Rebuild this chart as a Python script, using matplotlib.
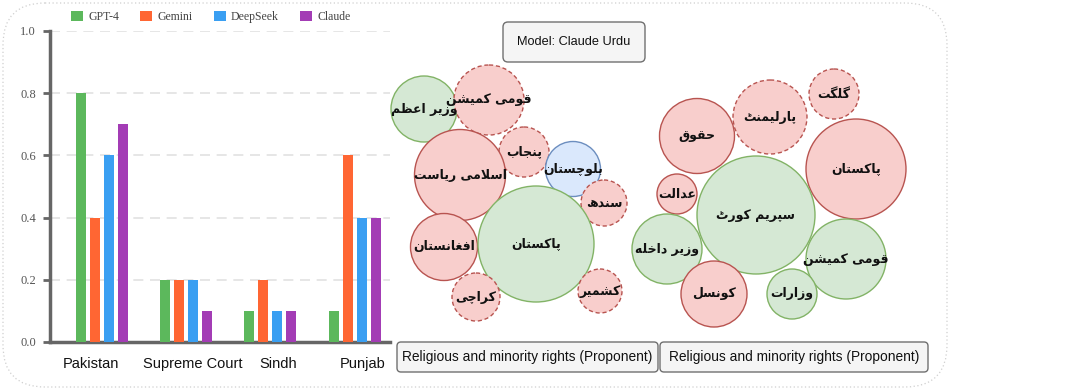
import numpy as np
import matplotlib
matplotlib.use('Agg')
import matplotlib.pyplot as plt
from matplotlib.patches import Circle, FancyBboxPatch

# bar chart data
categories = ['Pakistan', 'Supreme Court', 'Sindh', 'Punjab']
models = ['GPT-4', 'Gemini', 'DeepSeek', 'Claude']
gpt4 = [0.8, 0.2, 0.1, 0.1]
gemini = [0.4, 0.2, 0.2, 0.6]
deepseek = [0.6, 0.2, 0.1, 0.4]
claude = [0.7, 0.1, 0.1, 0.4]
bar_colors = ['#5cb85c', '#ff6633', '#3a9ff2', '#a33cb5']

# bubble charts (pixel centres / radii)
labels_l = ['وزیر اعظم', 'قومی کمیشن', 'پنجاب', 'بلوچستان', 'اسلامی ریاست',
            'سندھ', 'افغانستان', 'پاکستان', 'کراچی', 'کشمیر']
x_l = [424, 489, 524, 573, 460, 604, 444, 536, 476, 600]
y_l = [109, 100, 152, 169, 175, 203, 247, 244, 297, 291]
r_l = [33, 35, 25, 27.5, 45.5, 23, 33.5, 58, 24, 22]
kind_l = ['pos', 'neg_d', 'neg_d', 'neu', 'neg', 'neg_d', 'neg', 'pos', 'neg_d', 'neg_d']

labels_r = ['گلگت', 'پارلیمنٹ', 'حقوق', 'پاکستان', 'عدالت', 'سپریم کورٹ',
            'وزیر داخلہ', 'قومی کمیشن', 'کونسل', 'وزارات']
x_r = [834, 770, 697, 856, 677, 756, 667, 846, 714, 792]
y_r = [94, 117, 136, 169, 194, 215, 249, 259, 294, 294]
r_r = [25, 37, 37.5, 50, 20, 59, 35, 40, 33, 25]
kind_r = ['neg_d', 'neg_d', 'neg', 'neg', 'neg', 'pos', 'pos', 'pos', 'neg', 'pos']

title = 'Model: Claude Urdu'
panel_titles = ['Religious and minority rights (Proponent)',
                'Religious and minority rights (Proponent)']

# (fill, edge, linestyle)
styles = {
    'pos': ('#d5e8d4', '#82b366', '-'),
    'neg': ('#f8cecc', '#b85450', '-'),
    'neg_d': ('#f8cecc', '#b85450', (0, (3, 2))),
    'neu': ('#dae8fc', '#6c8ebf', '-'),
}

# matplotlib does no arabic shaping, so map letters to presentation forms
FORMS = {
    'ا': ('\uFE8D', '\uFE8E'), 'د': ('\uFEA9', '\uFEAA'), 'ر': ('\uFEAD', '\uFEAE'),
    'ز': ('\uFEAF', '\uFEB0'), 'و': ('\uFEED', '\uFEEE'), '\uFEFB': ('\uFEFB', '\uFEFC'),
    'ب': ('\uFE8F', '\uFE90', '\uFE91', '\uFE92'), 'ت': ('\uFE95', '\uFE96', '\uFE97', '\uFE98'),
    'ج': ('\uFE9D', '\uFE9E', '\uFE9F', '\uFEA0'), 'ح': ('\uFEA1', '\uFEA2', '\uFEA3', '\uFEA4'),
    'خ': ('\uFEA5', '\uFEA6', '\uFEA7', '\uFEA8'), 'س': ('\uFEB1', '\uFEB2', '\uFEB3', '\uFEB4'),
    'ش': ('\uFEB5', '\uFEB6', '\uFEB7', '\uFEB8'), 'ظ': ('\uFEC5', '\uFEC6', '\uFEC7', '\uFEC8'),
    'ع': ('\uFEC9', '\uFECA', '\uFECB', '\uFECC'), 'غ': ('\uFECD', '\uFECE', '\uFECF', '\uFED0'),
    'ف': ('\uFED1', '\uFED2', '\uFED3', '\uFED4'), 'ق': ('\uFED5', '\uFED6', '\uFED7', '\uFED8'),
    'ل': ('\uFEDD', '\uFEDE', '\uFEDF', '\uFEE0'), 'م': ('\uFEE1', '\uFEE2', '\uFEE3', '\uFEE4'),
    'ن': ('\uFEE5', '\uFEE6', '\uFEE7', '\uFEE8'), 'پ': ('\uFB56', '\uFB57', '\uFB58', '\uFB59'),
    'ٹ': ('\uFB66', '\uFB67', '\uFB68', '\uFB69'), 'چ': ('\uFB7A', '\uFB7B', '\uFB7C', '\uFB7D'),
    'ک': ('\uFB8E', '\uFB8F', '\uFB90', '\uFB91'), 'گ': ('\uFB92', '\uFB93', '\uFB94', '\uFB95'),
    'ھ': ('\uFBAA', '\uFBAB', '\uFBAC', '\uFBAD'),
    # DejaVu lacks the heh goal forms; the reference draws it like a plain heh
    'ہ': ('\uFEE9', '\uFEEA', '\uFEEB', '\uFEEC'),
    'ی': ('\uFBFC', '\uFBFD', '\uFBFE', '\uFBFF'),
}


def shape(text):
    chars = list(text.replace('لا', '\uFEFB'))
    out = []
    for i, c in enumerate(chars):
        if c not in FORMS:
            out.append(c)
            continue
        prev = chars[i - 1] if i > 0 else None
        nxt = chars[i + 1] if i + 1 < len(chars) else None
        link_prev = prev in FORMS and len(FORMS[prev]) == 4
        link_next = len(FORMS[c]) == 4 and nxt in FORMS
        f = FORMS[c]
        if link_prev and link_next:
            out.append(f[3])
        elif link_prev:
            out.append(f[1])
        elif link_next:
            out.append(f[2])
        else:
            out.append(f[0])
    return ''.join(out)[::-1]


W, H = 1081, 391
fig = plt.figure(figsize=(W / 100, H / 100), dpi=100)

# overlay in pixel coordinates for border, boxes and bubbles
ov = fig.add_axes([0, 0, 1, 1])
ov.set_xlim(0, W)
ov.set_ylim(H, 0)
ov.axis('off')

ov.add_patch(FancyBboxPatch((3, 3), 944, 384, boxstyle='round,pad=0,rounding_size=42',
                            fc='none', ec='#cfcfcf', lw=0.9, ls=(0, (1, 2))))

ov.add_patch(FancyBboxPatch((503, 22), 142, 40, boxstyle='round,pad=0,rounding_size=5',
                            fc='#f5f5f5', ec='#707070', lw=1))
ov.text(574, 42, title, ha='center', va='center', fontsize=9.2,
        family='Liberation Sans', color='#111111')

for (x0, x1), t in zip([(397, 658), (660, 928)], panel_titles):
    ov.add_patch(FancyBboxPatch((x0, 342), x1 - x0, 30, boxstyle='round,pad=0,rounding_size=4',
                                fc='#f5f5f5', ec='#707070', lw=1))
    ov.text((x0 + x1) / 2, 357, t, ha='center', va='center', fontsize=9.9,
            family='Liberation Sans', color='#111111')

for labels, xs, ys, rs, kinds in [(labels_l, x_l, y_l, r_l, kind_l),
                                  (labels_r, x_r, y_r, r_r, kind_r)]:
    for lab, x, y, r, k in zip(labels, xs, ys, rs, kinds):
        fc, ec, ls = styles[k]
        ov.add_patch(Circle((x, y), r, fc=fc, ec=ec, lw=1, ls=ls))
        ov.text(x, y, shape(lab), ha='center', va='center', fontsize=9,
                fontweight='bold', family='DejaVu Sans', color='#111111')

# bar chart
ax = fig.add_axes([50 / W, 1 - 342 / H, 340 / W, (342 - 31) / H])
ax.patch.set_alpha(0)
xs = np.arange(len(categories))
bw = 0.118
step = 0.166
for j, (name, vals) in enumerate(zip(models, [gpt4, gemini, deepseek, claude])):
    ax.bar(xs + (j - 1.5) * step, vals, width=bw, color=bar_colors[j], label=name, zorder=3)

ax.set_xlim(-0.611, 3.42)
ax.set_ylim(0, 1.0)
ax.set_yticks(np.arange(0, 1.01, 0.2))
ax.set_yticklabels([f'{v:.1f}' for v in np.arange(0, 1.01, 0.2)],
                   family='Liberation Serif', fontsize=9, color='#555555')
# the category labels sit a little off the group centres in the original
ax.set_xticks(xs + np.array([-0.12, 0.08, 0.09, 0.1]))
ax.set_xticklabels(categories, family='Liberation Sans', fontsize=10.5, color='#111111')
ax.tick_params(axis='x', length=0, pad=11)
ax.tick_params(axis='y', length=5, width=2, color='#666666', pad=5)
for g in np.arange(0.2, 1.01, 0.2):
    ax.axhline(g, color='#e2e2e2', lw=1.2, ls=(0, (6, 4)), zorder=1)
for s in ['top', 'right']:
    ax.spines[s].set_visible(False)
for s in ['left', 'bottom']:
    ax.spines[s].set_color('#666666')
    ax.spines[s].set_linewidth(2.5)

leg = fig.legend(loc='center left', bbox_to_anchor=(71 / W, 1 - 17 / H), ncol=4,
                 frameon=False, borderpad=0, borderaxespad=0, handlelength=1.0,
                 handleheight=1.0, handletextpad=0.45, columnspacing=1.8,
                 prop={'family': 'Liberation Serif', 'size': 8.5})
for t in leg.get_texts():
    t.set_color('#444444')

fig.savefig('out.png', dpi=100)
